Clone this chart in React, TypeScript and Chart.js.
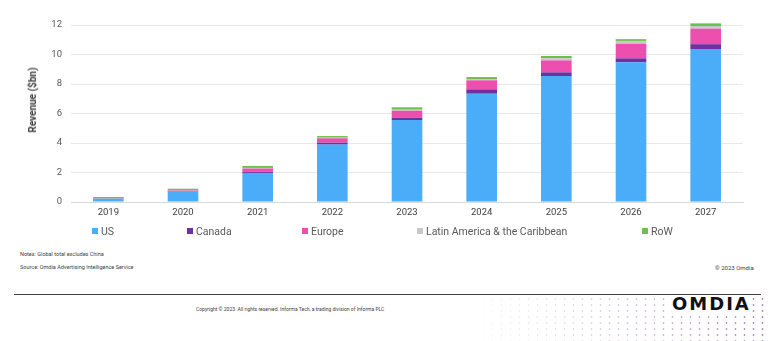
import React, { useEffect, useRef } from "react";
import { Chart, registerables } from "chart.js";

Chart.register(...registerables);

const years = ["2019", "2020", "2021", "2022", "2023", "2024", "2025", "2026", "2027"];
const usValues = [0.22, 0.7, 1.97, 3.89, 5.56, 7.34, 8.54, 9.47, 10.37];
const canadaValues = [0.01, 0.03, 0.08, 0.13, 0.16, 0.3, 0.25, 0.27, 0.33];
const europeValues = [0.01, 0.05, 0.22, 0.3, 0.47, 0.61, 0.81, 0.99, 1.05];
const latamValues = [0.01, 0.02, 0.04, 0.04, 0.07, 0.09, 0.14, 0.19, 0.18];
const rowValues = [0.09, 0.1, 0.13, 0.11, 0.16, 0.13, 0.16, 0.12, 0.18];
const seriesNames = ["US", "Canada", "Europe", "Latin America & the Caribbean", "RoW"];
const seriesColors = ["#4BACF7", "#7030A0", "#EC4FAE", "#C8C8C8", "#6CC04A"];
const yTicks = [0, 2, 4, 6, 8, 10, 12];

const legendLeft = [92, 187, 302, 417, 642];
const FONT = "Roboto, 'Open Sans', sans-serif";

export default function App() {
  const canvasRef = useRef<HTMLCanvasElement | null>(null);

  useEffect(() => {
    if (!canvasRef.current) return;
    const seriesValues = [usValues, canadaValues, europeValues, latamValues, rowValues];
    const chart = new Chart(canvasRef.current, {
      type: "bar",
      data: {
        labels: years,
        datasets: seriesNames.map((name, i) => ({
          label: name,
          data: seriesValues[i],
          backgroundColor: seriesColors[i],
          borderWidth: 0,
          barPercentage: 0.41,
          categoryPercentage: 1,
          clip: false as any,
        })),
      },
      options: {
        animation: false,
        responsive: false,
        maintainAspectRatio: false,
        layout: { padding: { top: 25, right: 25, bottom: 0, left: 0 } },
        plugins: { legend: { display: false }, tooltip: { enabled: false } },
        scales: {
          x: {
            stacked: true,
            grid: { display: false, drawTicks: false },
            border: { display: true, color: "#D9D9D9", width: 1 },
            ticks: { color: "#404040", font: { family: FONT, size: 9.5 }, padding: 5 },
            afterFit: (s: any) => { s.height = 28; },
          },
          y: {
            stacked: true,
            min: 0,
            max: 12,
            afterBuildTicks: (s: any) => { s.ticks = yTicks.map((v) => ({ value: v })); },
            grid: { color: "#E8E8E8", lineWidth: 1, drawTicks: false },
            border: { display: false },
            ticks: { color: "#595959", font: { family: FONT, size: 9.5 }, padding: 9 },
            afterFit: (s: any) => { s.width = 71; },
          },
        },
      },
    });
    return () => chart.destroy();
  }, []);

  const small: React.CSSProperties = {
    position: "absolute",
    fontFamily: FONT,
    color: "#404040",
    whiteSpace: "nowrap",
    lineHeight: 1,
  };

  return (
    <div style={{ position: "absolute", left: 0, top: 0, width: 768, height: 341, background: "#fff", overflow: "hidden" }}>
      <canvas ref={canvasRef} width={768} height={230} style={{ position: "absolute", left: 0, top: 0, width: 768, height: 230 }} />
      <div
        style={{
          position: "absolute",
          left: 33,
          top: 100,
          transform: "translate(-50%, -50%) rotate(-90deg)",
          fontFamily: FONT,
          fontWeight: 700,
          fontSize: 10,
          color: "#404040",
          whiteSpace: "nowrap",
          lineHeight: 1,
        }}
      >
        Revenue ($bn)
      </div>
      {seriesNames.map((name, i) => (
        <div key={name} style={{ position: "absolute", left: legendLeft[i], top: 225, height: 12, display: "flex", alignItems: "center", fontFamily: FONT, fontSize: 10.5, color: "#595959", whiteSpace: "nowrap" }}>
          <span style={{ display: "inline-block", width: 6, height: 6, background: seriesColors[i], marginRight: 3 }} />
          {name}
        </div>
      ))}
      <div style={{ ...small, left: 20, top: 252, fontSize: 5.5 }}>Notes: Global total excludes China</div>
      <div style={{ ...small, left: 20, top: 265, fontSize: 5.5 }}>Source: Omdia Advertising Intelligence Service</div>
      <div style={{ ...small, left: 715, top: 265, fontSize: 6 }}>© 2023 Omdia</div>
      <div style={{ position: "absolute", left: 14, top: 294, width: 747, height: 1, background: "#404040" }} />
      <div style={{ ...small, left: 196, top: 307, fontSize: 5 }}>
        Copyright © 2023. All rights reserved. Informa Tech, a trading division of Informa PLC
      </div>
      <div
        style={{
          position: "absolute",
          left: 470,
          top: 296,
          width: 298,
          height: 45,
          backgroundImage: "radial-gradient(circle, rgba(110,60,150,0.6) 0.8px, transparent 1.2px)",
          backgroundSize: "9px 6px",
          WebkitMaskImage: "linear-gradient(to right, rgba(0,0,0,0) 0%, rgba(0,0,0,0.5) 60%, rgba(0,0,0,1) 100%)",
          maskImage: "linear-gradient(to right, rgba(0,0,0,0) 0%, rgba(0,0,0,0.5) 60%, rgba(0,0,0,1) 100%)",
        }}
      />
      <div
        style={{
          position: "absolute",
          left: 672,
          top: 295,
          fontFamily: "'DejaVu Sans', sans-serif",
          fontWeight: 900,
          fontSize: 18,
          letterSpacing: 2,
          color: "#111",
          lineHeight: 1,
          background: "#fff",
        }}
      >
        OMDIA
      </div>
    </div>
  );
}
